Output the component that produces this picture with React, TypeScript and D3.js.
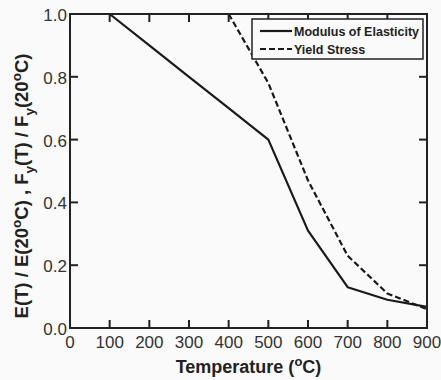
import React from "react";
import * as d3 from "d3";

const modTemps = [100, 200, 300, 400, 500, 600, 700, 800, 900];
const modVals = [1.0, 0.9, 0.8, 0.7, 0.6, 0.31, 0.13, 0.09, 0.0675];
const yieldTemps = [400, 500, 600, 700, 800, 900];
const yieldVals = [1.0, 0.78, 0.47, 0.23, 0.11, 0.06];
const xTicks = [0, 100, 200, 300, 400, 500, 600, 700, 800, 900];
const yTicks = [0, 0.2, 0.4, 0.6, 0.8, 1.0];
const legendLabels = ["Modulus of Elasticity", "Yield Stress"];

const W = 441, H = 380;
const L = 70, R = 427, T = 14, B = 328;

export default function App() {
  const x = d3.scaleLinear().domain([0, 900]).range([L, R]);
  const y = d3.scaleLinear().domain([0, 1]).range([B, T]);
  const line = d3.line<[number, number]>().x(d => x(d[0])).y(d => y(d[1]));
  const modData = modTemps.map((t, i) => [t, modVals[i]] as [number, number]);
  const yData = yieldTemps.map((t, i) => [t, yieldVals[i]] as [number, number]);
  const font = "Liberation Sans, Arial, Helvetica, sans-serif";
  const tl = 8;
  return (
    <svg width={W} height={H} style={{ position: "absolute", left: 0, top: 0, background: "#fafafa" }} fontFamily={font}>
      <rect x={0} y={0} width={W} height={H} fill="#fafafa" />
      {/* curves */}
      <path d={line(modData) || ""} fill="none" stroke="#1a1a1a" strokeWidth={2.2} strokeLinejoin="round" />
      <path d={line(yData) || ""} fill="none" stroke="#1a1a1a" strokeWidth={2.2} strokeDasharray="6,3" />
      {/* frame and ticks */}
      <rect x={L} y={T} width={R - L} height={B - T} fill="none" stroke="#222" strokeWidth={2} />
      {xTicks.map(t => (
        <rect key={"xb" + t} x={x(t) - 1} y={B - tl} width={2} height={tl} fill="#222" />
      ))}
      {xTicks.map(t => (
        <rect key={"xt" + t} x={x(t) - 1} y={T} width={2} height={tl} fill="#222" />
      ))}
      {yTicks.map(t => (
        <rect key={"yl" + t} x={L} y={y(t) - 1} width={tl} height={2} fill="#222" />
      ))}
      {yTicks.map(t => (
        <rect key={"yr" + t} x={R - tl} y={y(t) - 1} width={tl} height={2} fill="#222" />
      ))}
      {xTicks.map(t => (
        <text key={"x" + t} x={x(t)} y={348} textAnchor="middle" fontSize={17} fill="#333">{t}</text>
      ))}
      {yTicks.map(t => (
        <text key={"y" + t} x={67} y={y(t) + 7} textAnchor="end" fontSize={17} fill="#333">{t.toFixed(1)}</text>
      ))}
      {/* legend */}
      <rect x={252} y={19} width={171} height={40} fill="#fafafa" stroke="#222" strokeWidth={1.5} />
      <line x1={260} x2={292} y1={31} y2={31} stroke="#1a1a1a" strokeWidth={2.2} />
      <text x={294} y={35.5} fontSize={12.5} fontWeight="bold" fill="#222">{legendLabels[0]}</text>
      <line x1={260} x2={292} y1={49} y2={49} stroke="#1a1a1a" strokeWidth={2.2} strokeDasharray="6,3" />
      <text x={294} y={53.5} fontSize={12.5} fontWeight="bold" fill="#222">{legendLabels[1]}</text>
      {/* axis labels */}
      <text x={(L + R) / 2} y={373} textAnchor="middle" fontSize={18} fontWeight="bold" fill="#222">
        Temperature (<tspan dy={-7} fontSize={13}>o</tspan><tspan dy={7}>C)</tspan>
      </text>
      <text transform={`translate(28, 186) rotate(-90)`} textAnchor="middle" fontSize={18.5} fontWeight="bold" fill="#222">
        E(T) / E(20<tspan dy={-7} fontSize={13.5}>o</tspan><tspan dy={7}>C) , F</tspan><tspan dy={6} fontSize={13.5}>y</tspan><tspan dy={-6}>(T) / F</tspan><tspan dy={6} fontSize={13.5}>y</tspan><tspan dy={-6}>(20</tspan><tspan dy={-7} fontSize={13.5}>o</tspan><tspan dy={7}>C)</tspan>
      </text>
    </svg>
  );
}
